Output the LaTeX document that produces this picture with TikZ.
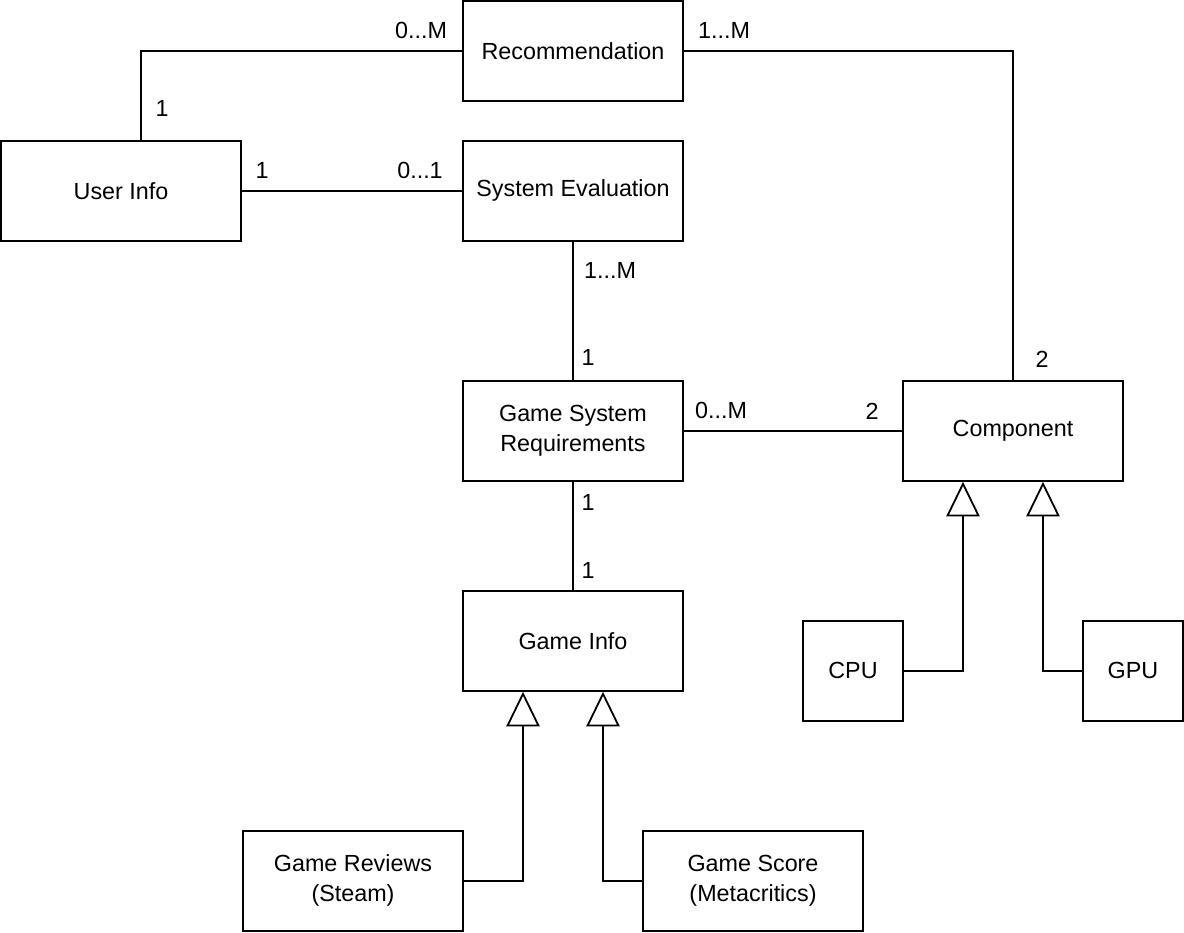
\documentclass[tikz,border=0pt]{standalone}
\usepackage{fontspec}
\setmainfont{Liberation Sans}
\usepackage{tikz}
\usetikzlibrary{arrows.meta}

\tikzset{
  cls/.style={draw, line width=1.35pt, inner sep=0pt, align=center, minimum width=165pt, minimum height=75pt},
  smallcls/.style={cls, minimum width=75pt},
  assoc/.style={line width=1.35pt},
  inherit/.style={line width=1.35pt, -{Triangle[open, length=26pt, width=25pt]}},
  mult/.style={inner sep=0.75pt}
}

\begin{document}
\begin{tikzpicture}[x=0.75pt,y=0.75pt,yscale=-1,xscale=1,font=\fontsize{17.5}{22.5}\selectfont]
\path (0,0) rectangle (1184,932); %set diagram size

%Shape: Rectangle
\draw (573,50) node [cls] (rec) {Recommendation};
%Shape: Rectangle
\draw (121,190) node [cls, minimum width=180pt] (user) {User Info};
%Shape: Rectangle
\draw (573,190) node [cls] (eval) {System Evaluation};
%Shape: Rectangle
\draw (573,430) node [cls] (req) {Game System\\Requirements};
%Shape: Rectangle
\draw (1013,430) node [cls] (comp) {Component};
%Shape: Rectangle
\draw (573,640) node [cls] (info) {Game Info};
%Shape: Rectangle
\draw (853,670) node [smallcls] (cpu) {CPU};
%Shape: Rectangle
\draw (1133,670) node [smallcls] (gpu) {GPU};
%Shape: Rectangle
\draw (353,880) node [cls] (rev) {Game Reviews\\(Steam)};
%Shape: Rectangle
\draw (753,880) node [cls] (score) {Game Score\\(Metacritics)};

%Associations
\draw [assoc] ([xshift=15pt]user.north) |- (rec.west) ;
\draw [assoc] (rec.east) -| (comp.north) ;
\draw [assoc] (user.east) -- (eval.west) ;
\draw [assoc] (eval.south) -- (req.north) ;
\draw [assoc] (req.east) -- (comp.west) ;
\draw [assoc] (req.south) -- (info.north) ;

%Generalizations
\draw [inherit] (rev.east) -| ([xshift=-37.5pt]info.south) ;
\draw [inherit] (score.west) -| ([xshift=22.5pt]info.south) ;
\draw [inherit] (cpu.east) -| ([xshift=-37.5pt]comp.south) ;
\draw [inherit] (gpu.west) -| ([xshift=22.5pt]comp.south) ;

% Text Node
\draw (421,30) node [mult] (m1) {0...M};
% Text Node
\draw (724,30) node [mult] (m2) {1...M};
% Text Node
\draw (162,108) node [mult] (m3) {1};
% Text Node
\draw (262,170) node [mult] (m4) {1};
% Text Node
\draw (420,170) node [mult] (m5) {0...1};
% Text Node
\draw (610,270) node [mult] (m6) {1...M};
% Text Node
\draw (588,357) node [mult] (m7) {1};
% Text Node
\draw (721,410) node [mult] (m8) {0...M};
% Text Node
\draw (872,410) node [mult] (m9) {2};
% Text Node
\draw (1042,358) node [mult] (m10) {2};
% Text Node
\draw (588,502) node [mult] (m11) {1};
% Text Node
\draw (588,570) node [mult] (m12) {1};

\end{tikzpicture}
\end{document}
